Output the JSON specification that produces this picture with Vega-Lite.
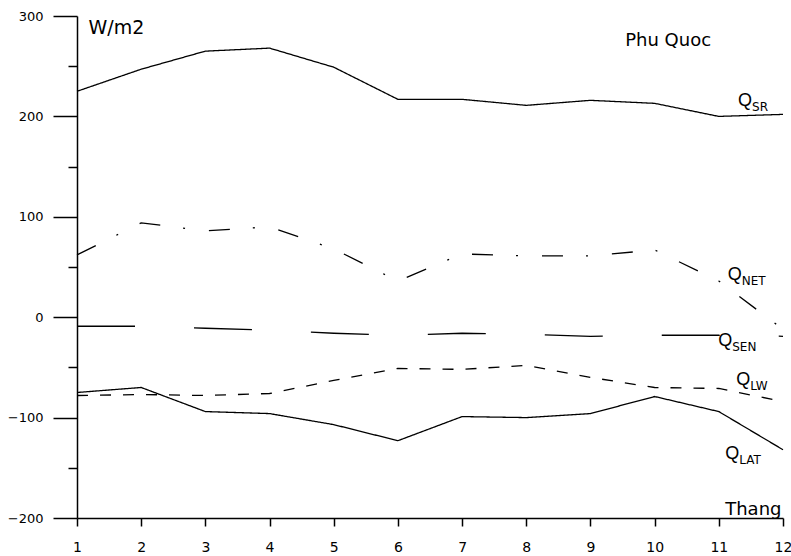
{
  "$schema": "https://vega.github.io/schema/vega-lite/v6.json",
  "width": 706,
  "height": 502,
  "autosize": {"type": "none"},
  "padding": {"left": 77, "top": 16, "right": 8, "bottom": 38},
  "background": "white",
  "config": {"view": {"stroke": null}, "font": "DejaVu Sans"},
  "datasets": {
    "series": [
      {"series": "SR", "month": 1, "value": 225}, {"series": "SR", "month": 2, "value": 247}, {"series": "SR", "month": 3, "value": 265}, {"series": "SR", "month": 4, "value": 268}, {"series": "SR", "month": 5, "value": 249}, {"series": "SR", "month": 6, "value": 217}, {"series": "SR", "month": 7, "value": 217}, {"series": "SR", "month": 8, "value": 211}, {"series": "SR", "month": 9, "value": 216}, {"series": "SR", "month": 10, "value": 213}, {"series": "SR", "month": 11, "value": 200}, {"series": "SR", "month": 12, "value": 202},
      {"series": "NET", "month": 1, "value": 62}, {"series": "NET", "month": 2, "value": 94}, {"series": "NET", "month": 3, "value": 86}, {"series": "NET", "month": 4, "value": 90}, {"series": "NET", "month": 5, "value": 68}, {"series": "NET", "month": 6, "value": 36}, {"series": "NET", "month": 7, "value": 63}, {"series": "NET", "month": 8, "value": 61}, {"series": "NET", "month": 9, "value": 61}, {"series": "NET", "month": 10, "value": 67}, {"series": "NET", "month": 11, "value": 36}, {"series": "NET", "month": 12, "value": -12},
      {"series": "SEN", "month": 1, "value": -9}, {"series": "SEN", "month": 2, "value": -9}, {"series": "SEN", "month": 3, "value": -11}, {"series": "SEN", "month": 4, "value": -13}, {"series": "SEN", "month": 5, "value": -16}, {"series": "SEN", "month": 6, "value": -18}, {"series": "SEN", "month": 7, "value": -16}, {"series": "SEN", "month": 8, "value": -17}, {"series": "SEN", "month": 9, "value": -19}, {"series": "SEN", "month": 10, "value": -18}, {"series": "SEN", "month": 11, "value": -18}, {"series": "SEN", "month": 12, "value": -19},
      {"series": "LW", "month": 1, "value": -78}, {"series": "LW", "month": 2, "value": -77}, {"series": "LW", "month": 3, "value": -78}, {"series": "LW", "month": 4, "value": -76}, {"series": "LW", "month": 5, "value": -63}, {"series": "LW", "month": 6, "value": -51}, {"series": "LW", "month": 7, "value": -52}, {"series": "LW", "month": 8, "value": -48}, {"series": "LW", "month": 9, "value": -60}, {"series": "LW", "month": 10, "value": -70}, {"series": "LW", "month": 11, "value": -71}, {"series": "LW", "month": 12, "value": -84},
      {"series": "LAT", "month": 1, "value": -75}, {"series": "LAT", "month": 2, "value": -70}, {"series": "LAT", "month": 3, "value": -94}, {"series": "LAT", "month": 4, "value": -96}, {"series": "LAT", "month": 5, "value": -107}, {"series": "LAT", "month": 6, "value": -123}, {"series": "LAT", "month": 7, "value": -99}, {"series": "LAT", "month": 8, "value": -100}, {"series": "LAT", "month": 9, "value": -96}, {"series": "LAT", "month": 10, "value": -79}, {"series": "LAT", "month": 11, "value": -94}, {"series": "LAT", "month": 12, "value": -132}
    ],
    "labels": [
      {"q": "Q", "sub": "SR", "month": 11.3, "value": 215},
      {"q": "Q", "sub": "NET", "month": 11.14, "value": 42},
      {"q": "Q", "sub": "SEN", "month": 10.99, "value": -24},
      {"q": "Q", "sub": "LW", "month": 11.27, "value": -63},
      {"q": "Q", "sub": "LAT", "month": 11.1, "value": -136}
    ],
    "place": [
      {"name": "Phu Quoc", "month": 10.21, "value": 275}
    ]
  },
  "encoding": {
    "x": {
      "field": "month", "type": "quantitative",
      "scale": {"domain": [1, 12], "nice": false, "zero": false},
      "axis": {
        "values": [1, 2, 3, 4, 5, 6, 7, 8, 9, 10, 11, 12], "format": "d", "grid": false,
        "domainColor": "black", "domainWidth": 1.5, "tickColor": "black", "tickWidth": 1.5, "tickSize": 8,
        "labelColor": "black", "labelFontSize": 14, "labelPadding": 14, "labelFlush": false,
        "title": "Thang", "titleColor": "black", "titleFontSize": 18, "titleFontWeight": "normal",
        "titleAlign": "right", "titleBaseline": "alphabetic", "titleX": 704, "titleY": -4
      }
    },
    "y": {
      "field": "value", "type": "quantitative",
      "scale": {"domain": [-200, 300], "nice": false, "zero": false},
      "axis": {
        "values": [-200, -150, -100, -50, 0, 50, 100, 150, 200, 250, 300], "grid": false,
        "labelExpr": "datum.value % 100 === 0 ? datum.label : ''",
        "domainColor": "black", "domainWidth": 1.5, "tickColor": "black", "tickWidth": 1.5,
        "tickSize": {"condition": {"test": "datum.value % 100 === 0", "value": 24}, "value": 9},
        "labelColor": "black", "labelFontSize": 13, "labelPadding": 10, "labelFlush": false,
        "title": "W/m2", "titleColor": "black", "titleFontSize": 19, "titleFontWeight": "normal",
        "titleAngle": 0, "titleAlign": "left", "titleBaseline": "alphabetic", "titleX": 11, "titleY": 17
      }
    }
  },
  "layer": [
    {
      "data": {"name": "series"},
      "mark": {"type": "line", "color": "black", "strokeWidth": 1.3},
      "encoding": {
        "detail": {"field": "series"},
        "strokeDash": {
          "field": "series", "type": "nominal",
          "scale": {"domain": ["SR", "NET", "SEN", "LW", "LAT"], "range": [[1, 0], [21, 23, 2, 24], [58, 59], [11, 12], [1, 0]]},
          "legend": null
        }
      }
    },
    {
      "data": {"name": "labels"},
      "mark": {"type": "text", "align": "left", "baseline": "middle", "font": "Liberation Sans", "fontSize": 18, "color": "black"},
      "encoding": {"text": {"field": "q"}}
    },
    {
      "data": {"name": "labels"},
      "mark": {"type": "text", "align": "left", "baseline": "middle", "font": "DejaVu Sans", "fontSize": 12, "dx": 14, "dy": 6, "color": "black"},
      "encoding": {"text": {"field": "sub"}}
    },
    {
      "data": {"name": "place"},
      "mark": {"type": "text", "align": "center", "baseline": "middle", "font": "DejaVu Sans", "fontSize": 18, "color": "black"},
      "encoding": {"text": {"field": "name"}}
    }
  ]
}
